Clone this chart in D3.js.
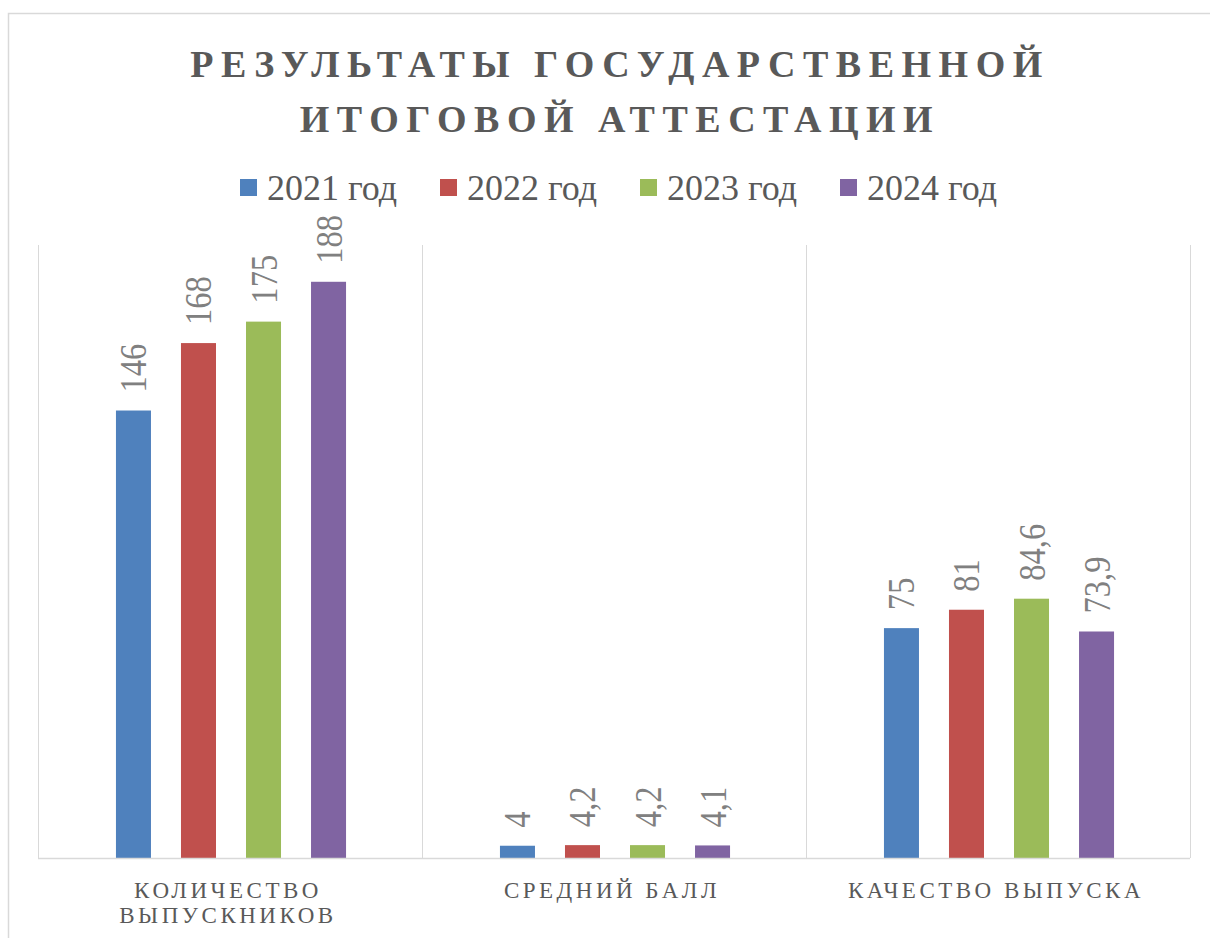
<html><head><meta charset="utf-8"><script src="https://cdn.jsdelivr.net/npm/d3@7"></script></head>
<body style="margin:0">
<script>
// Data

const categories = ["КОЛИЧЕСТВО ВЫПУСКНИКОВ", "СРЕДНИЙ БАЛЛ", "КАЧЕСТВО ВЫПУСКА"];
const years = ["2021 год", "2022 год", "2023 год", "2024 год"];
const values2021 = [146, 4, 75];
const values2022 = [168, 4.2, 81];
const values2023 = [175, 4.2, 84.6];
const values2024 = [188, 4.1, 73.9];
const titleLines = ["РЕЗУЛЬТАТЫ ГОСУДАРСТВЕННОЙ", "ИТОГОВОЙ АТТЕСТАЦИИ"];
const colors = ["#4f81bd", "#c0504d", "#9bbb59", "#8064a2"];

const seriesValues = [values2021, values2022, values2023, values2024];
const rows = [];
categories.forEach((c, i) => {
  years.forEach((y, j) => {
    rows.push({ cat: c, year: y, value: seriesValues[j][i] });
  });
});

const fontName = "Tinos, 'Liberation Serif', FreeSerif, serif";

// Dimensions

const width = 1210;
const height = 938;
const plot = { left: 38, right: 1190, top: 245, bottom: 858 };

const svg = d3.select("body")
  .append("svg")
  .attr("width", width)
  .attr("height", height)
  .attr("font-family", fontName);

// outer frame
svg.append("rect")
  .attr("x", 8.5).attr("y", 13.5)
  .attr("width", 1215).attr("height", 940)
  .attr("fill", "none")
  .attr("stroke", "#d9d9d9")
  .attr("stroke-width", 1.5);

// Scales

const x0 = d3.scaleBand()
  .domain(categories)
  .range([plot.left, plot.right]);

const x1 = d3.scaleBand()
  .domain(years)
  .range([63, 323])
  .paddingInner(0.4615)
  .paddingOuter(0.23);

const y = d3.scaleLinear()
  .domain([0, 200])
  .range([plot.bottom, plot.top]);

const color = d3.scaleOrdinal().domain(years).range(colors);
const fmt = d3.formatLocale({ decimal: ",", thousands: " ", grouping: [3], currency: ["", ""] }).format("~g");

// Title

svg.append("g")
  .selectAll("text")
  .data(titleLines)
  .enter()
  .append("text")
  .attr("x", 620)
  .attr("y", (d, i) => 77 + i * 55)
  .attr("text-anchor", "middle")
  .attr("font-family", fontName)
  .attr("font-size", 38)
  .attr("font-weight", "bold")
  .attr("letter-spacing", 7.5)
  .attr("fill", "#595959")
  .text(d => d);

// Legend

const legend = svg.append("g")
  .selectAll("g")
  .data(years)
  .enter()
  .append("g")
  .attr("transform", (d, i) => "translate(" + (240 + i * 200) + ",0)");

legend.append("rect")
  .attr("x", 0).attr("y", 179)
  .attr("width", 17).attr("height", 17)
  .attr("fill", d => color(d));

legend.append("text")
  .attr("x", 27)
  .attr("y", 200)
  .attr("font-family", fontName)
  .attr("font-size", 36)
  .attr("fill", "#595959")
  .text(d => d);

// Grid lines at category boundaries

const edges = categories.map(c => x0(c)).concat([plot.right]);
svg.append("g")
  .selectAll("line")
  .data(edges)
  .enter()
  .append("line")
  .attr("x1", d => d + 0.5).attr("x2", d => d + 0.5)
  .attr("y1", plot.top).attr("y2", plot.bottom)
  .attr("stroke", "#d9d9d9")
  .attr("stroke-width", 1);

// Bars

svg.append("g")
  .selectAll("rect")
  .data(rows)
  .enter()
  .append("rect")
  .attr("x", d => x0(d.cat) + x1(d.year))
  .attr("y", d => y(d.value))
  .attr("width", x1.bandwidth())
  .attr("height", d => y(0) - y(d.value))
  .attr("fill", d => color(d.year));

// Baseline

svg.append("line")
  .attr("x1", plot.left).attr("x2", plot.right)
  .attr("y1", y(0) + 0.5).attr("y2", y(0) + 0.5)
  .attr("stroke", "#d9d9d9")
  .attr("stroke-width", 1.5);

// Data labels (rotated)

svg.append("g")
  .selectAll("text")
  .data(rows)
  .enter()
  .append("text")
  .attr("transform", d => "translate(" + (x0(d.cat) + x1(d.year) + x1.bandwidth() / 2 + 13) + "," + (y(d.value) - 18) + ") rotate(-90) scale(0.88,1)")
  .attr("font-family", fontName)
  .attr("font-size", 37)
  .attr("fill", "#808080")
  .text(d => fmt(d.value));

// Category labels

function wrapLines(label) {
  const words = label.split(" ");
  if (label.length > 18) return words;
  return [label];
}

svg.append("g")
  .selectAll("text")
  .data(categories)
  .enter()
  .append("text")
  .attr("x", d => x0(d) + x0.bandwidth() / 2)
  .attr("y", 898)
  .attr("text-anchor", "middle")
  .attr("font-family", fontName)
  .attr("font-size", 23)
  .attr("letter-spacing", 3.5)
  .attr("fill", "#595959")
  .each(function(d) {
    const t = d3.select(this);
    wrapLines(d).forEach((line, i) => {
      t.append("tspan")
        .attr("x", x0(d) + x0.bandwidth() / 2 - 2)
        .attr("dy", i === 0 ? 0 : 25)
        .text(line);
    });
  });
</script>
</body>
</html>
